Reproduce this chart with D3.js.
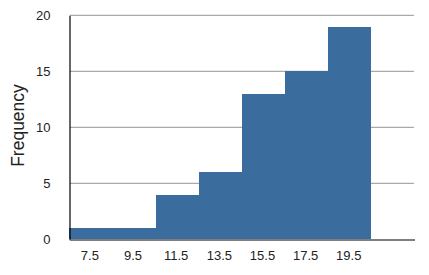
<!DOCTYPE html>
<html><head><meta charset="utf-8">
<script src="https://cdn.jsdelivr.net/npm/d3@7"></script>
<style>body{margin:0;background:#fff}svg{display:block}</style>
</head><body>
<svg id="c" width="429" height="275"></svg>
<script>
const binStarts = [6.5, 8.5, 10.5, 12.5, 14.5, 16.5, 18.5];
const binWidth = 2;
const frequencies = [1, 1, 4, 6, 13, 15, 19];
const xTickLabels = [7.5, 9.5, 11.5, 13.5, 15.5, 17.5, 19.5];
const yTicks = [0, 5, 10, 15, 20];

const svg = d3.select("#c");
const font = "Liberation Sans, Arial, Helvetica, sans-serif";
const x = d3.scaleLinear().domain([6.5, 22.5]).range([69.3, 414.5]);
const y = d3.scaleLinear().domain([0, 20]).range([239.3, 15.3]);

// gridlines
svg.append("g").selectAll("line").data(yTicks.filter(d => d > 0)).join("line")
  .attr("x1", 70).attr("x2", 414)
  .attr("y1", d => y(d)).attr("y2", d => y(d))
  .attr("stroke", "#aaaaaa").attr("stroke-width", 1.3);

// bars
svg.append("g").attr("shape-rendering", "crispEdges").selectAll("rect").data(frequencies).join("rect")
  .attr("x", (d, i) => Math.round(x(binStarts[i])))
  .attr("width", (d, i) => Math.round(x(binStarts[i] + binWidth)) - Math.round(x(binStarts[i])))
  .attr("y", d => Math.round(y(d)))
  .attr("height", d => Math.round(y(0)) - Math.round(y(d)))
  .attr("fill", "#3a6c9d");

// y axis labels
const yAxis = d3.axisLeft(y).tickValues(yTicks).tickSize(0).tickPadding(19);
const gy = svg.append("g").attr("transform", "translate(69.5,0)").call(yAxis);
gy.select(".domain").attr("stroke", "#000").attr("stroke-width", 1.2);
gy.selectAll("text").attr("font-family", font).attr("font-size", 13).attr("fill", "#222");

// x axis
const xAxis = d3.axisBottom(x).tickValues(xTickLabels).tickFormat(d3.format(".1f")).tickSize(0).tickPadding(11);
const gx = svg.append("g").attr("transform", "translate(0,239.5)").call(xAxis);
gx.select(".domain").attr("stroke", "#000").attr("stroke-width", 1.2);
gx.selectAll("text").attr("font-family", font).attr("font-size", 13).attr("fill", "#222").attr("dx", -1.5);

// y label
svg.append("text").attr("transform", "translate(24,125.5) rotate(-90)")
  .attr("text-anchor", "middle").attr("font-family", font).attr("font-size", 17.5)
  .attr("fill", "#222").text("Frequency");
</script>
</body></html>
